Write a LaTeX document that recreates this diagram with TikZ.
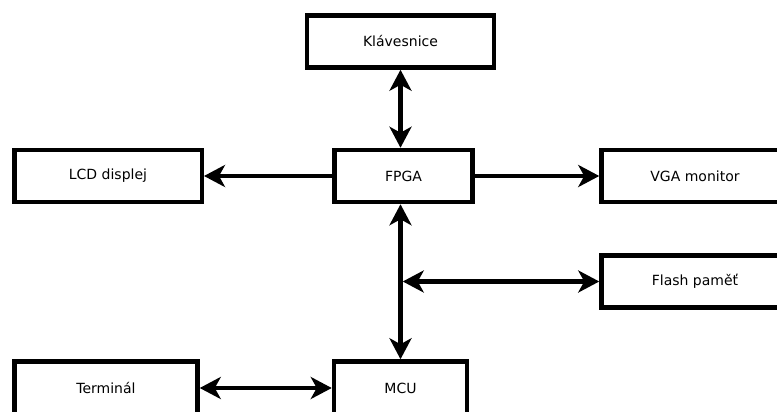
\documentclass[tikz,border=0pt]{standalone}
\usepackage{fontspec}
\setmainfont{DejaVu Sans}
\usetikzlibrary{arrows.meta}

\tikzset{
	blok/.style={draw, line width=4.5pt, minimum height=52pt, inner sep=0pt, font=\fontsize{14}{16}\selectfont},
	sipka/.style={line width=4.5pt, -{Stealth[length=21pt, width=22pt, inset=6pt]}},
	obe/.style={line width=4.5pt, {Stealth[length=21pt, width=22pt, inset=6pt]}-{Stealth[length=21pt, width=22pt, inset=6pt]}},
}

\begin{document}
\begin{tikzpicture}[x=1pt, y=-1pt]
			%%%%% START %%%%%
			
			\fill[white] (0, 0) rectangle (777, 412);
			\path[use as bounding box, clip] (0, 0) rectangle (777, 412);
			
			\node[blok, minimum width=187pt] (klav) at (400.5, 41.5) {Klávesnice};
			\node[blok, minimum width=138pt] (fpga) at (403.5, 176) {FPGA};
			\node[blok, minimum width=187.5pt] (lcd) at (108, 176) {LCD displej};
			\node[blok, minimum width=187pt] (vga) at (695, 176) {VGA monitor};
			\node[blok, minimum width=187pt] (flash) at (695, 281.5) {Flash paměť};
			
			% spodni rada je oriznuta
			\node[blok, minimum width=183pt, minimum height=60pt, text depth=7pt] (term) at (106, 391.5) {Terminál};
			\node[blok, minimum width=133pt, minimum height=60pt, text depth=7pt] (mcu) at (400.5, 391.5) {MCU};
			
			\draw[obe] (klav.south) -- (klav.south |- fpga.north);
			\draw[sipka] (fpga.west) -- (lcd.east);
			\draw[sipka] (fpga.east) -- (vga.west);
			\draw[obe] (mcu.north |- fpga.south) -- (mcu.north);
			
			\coordinate (odbocka) at (402.75, 281.5);
			\draw[obe] (odbocka) -- (flash.west);
			
			\draw[obe] ([yshift=3.5pt]term.east) -- ([yshift=3.5pt]mcu.west);
			
			%%%%% END %%%%%
\end{tikzpicture}
\end{document}
